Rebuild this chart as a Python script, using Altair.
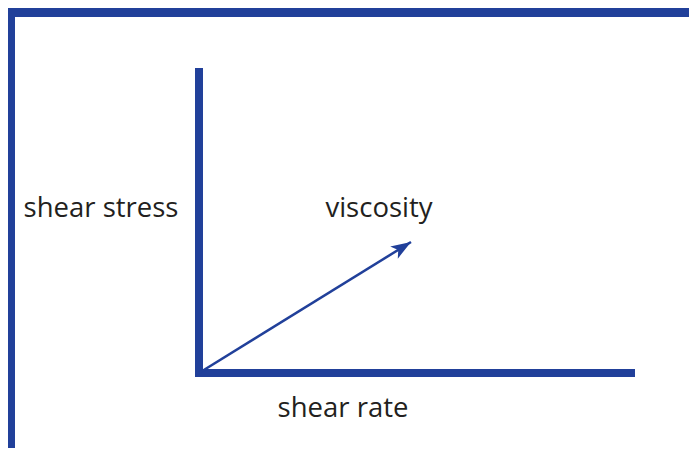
import math
import altair as alt
import pandas as pd

BLUE = "#21409a"
TEXT = "#231f20"

# diagram coordinates (origin at the corner of the axes, y up)
axis_names = ["shear stress", "shear rate"]
axis_x1 = [0, -4]
axis_y1 = [-4, 0]
axis_x2 = [0, 436]
axis_y2 = [305, 0]

arrow_start = [0, 0]
arrow_end = [212, 131]

label_text = ["shear stress", "viscosity", "shear rate"]
label_x = [-98, 180, 144]
label_y = [156, 156, -44]

W, H = 681, 440
xs = alt.Scale(domain=[-199, 498], range=[-8, 689], nice=False, zero=False)
ys = alt.Scale(domain=[-89, 373], range=[454, -8], nice=False, zero=False)
X = lambda f: alt.X(f, type="quantitative", scale=xs, axis=None)
Y = lambda f: alt.Y(f, type="quantitative", scale=ys, axis=None)

axes_df = pd.DataFrame({"name": axis_names, "x": axis_x1, "y": axis_y1,
                        "x2": axis_x2, "y2": axis_y2})
axes = alt.Chart(axes_df).mark_rule(color=BLUE, strokeWidth=8, strokeCap="butt").encode(
    x=X("x"), y=Y("y"), x2="x2", y2="y2")

arr_df = pd.DataFrame({"x": [arrow_start[0]], "y": [arrow_start[1]],
                       "x2": [arrow_end[0]], "y2": [arrow_end[1]]})
arrow_line = alt.Chart(arr_df).mark_rule(color=BLUE, strokeWidth=2.5).encode(
    x=X("x"), y=Y("y"), x2="x2", y2="y2")

dx = arrow_end[0] - arrow_start[0]
dy = arrow_end[1] - arrow_start[1]
ang = (-math.degrees(math.atan2(dy, dx))) % 360
head_df = pd.DataFrame({"x": [arrow_end[0]], "y": [arrow_end[1]]})
head = alt.Chart(head_df).mark_point(
    shape="M0,0 L-1,-0.36 L-0.75,0 L-1,0.36 Z", filled=True, color=BLUE,
    size=1600, angle=ang, opacity=1, strokeWidth=0).encode(x=X("x"), y=Y("y"))

lab_df = pd.DataFrame({"t": label_text, "x": label_x, "y": label_y})
labels = alt.Chart(lab_df).mark_text(
    font="Open Sans", fontSize=27.5, color=TEXT, align="center", baseline="alphabetic").encode(
    x=X("x"), y=Y("y"), text="t")

frame_df = pd.DataFrame({"k": ["top", "left"]})
top_bar = alt.Chart(frame_df.iloc[[0]]).mark_rect(color=BLUE).encode(
    x=alt.value(0), x2=alt.value(W), y=alt.value(0), y2=alt.value(9))
left_bar = alt.Chart(frame_df.iloc[[1]]).mark_rect(color=BLUE).encode(
    x=alt.value(0), x2=alt.value(7), y=alt.value(0), y2=alt.value(H))

chart = alt.layer(top_bar, left_bar, axes, arrow_line, head, labels).properties(
    width=W, height=H, autosize=alt.AutoSizeParams(type="none"), padding=0
).configure_view(stroke=None)

chart.save("out.html", embed_options={"renderer": "svg", "actions": False})
